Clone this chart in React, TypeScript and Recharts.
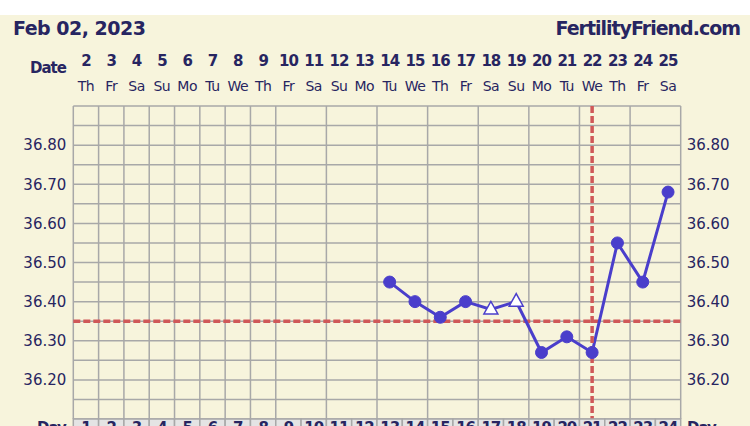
import React from 'react';
import { ComposedChart, Line, XAxis, YAxis, CartesianGrid, ReferenceLine } from 'recharts';

const dates = [2, 3, 4, 5, 6, 7, 8, 9, 10, 11, 12, 13, 14, 15, 16, 17, 18, 19, 20, 21, 22, 23, 24, 25];
const weekdays = ['Th', 'Fr', 'Sa', 'Su', 'Mo', 'Tu', 'We', 'Th', 'Fr', 'Sa', 'Su', 'Mo', 'Tu', 'We', 'Th', 'Fr', 'Sa', 'Su', 'Mo', 'Tu', 'We', 'Th', 'Fr', 'Sa'];
const cycleDays = [1, 2, 3, 4, 5, 6, 7, 8, 9, 10, 11, 12, 13, 14, 15, 16, 17, 18, 19, 20, 21, 22, 23, 24];
const temps = [null, null, null, null, null, null, null, null, null, null, null, null,
  36.45, 36.40, 36.36, 36.40, 36.38, 36.40, 36.27, 36.31, 36.27, 36.55, 36.45, 36.68];
const openTriangleDates = [18, 19];
const coverline = 36.35;
const ovulationDate = 22;
const yGridTicks = [36.10, 36.15, 36.20, 36.25, 36.30, 36.35, 36.40, 36.45, 36.50, 36.55, 36.60, 36.65, 36.70, 36.75, 36.80, 36.85, 36.90];
const yTickLabels = ['36.20', '36.30', '36.40', '36.50', '36.60', '36.70', '36.80'];

const data = dates.map((d, i) => ({ date: d, dow: weekdays[i], cd: cycleDays[i], temp: temps[i] }));
const xDomain = [dates[0] - 0.5, dates[dates.length - 1] + 0.5];
const columnEdges = [...dates.map((d) => d - 0.5), dates[dates.length - 1] + 0.5];

const CREAM = '#f7f4dc';
const NAVY = '#272561';
const BLUE = '#4a3ecb';
const RED = '#d05858';
const GRID = '#a8a8a8';
const FONT = '"DejaVu Sans", Verdana, sans-serif';

const TopTick = (props: any) => {
  const { x, y, payload, index } = props;
  const row = data.find((r) => r.date === payload.value);
  return (
    <g key={`tt-${index}`}>
      <text x={x} y={y - 40} textAnchor="middle" fill={NAVY} fontFamily={FONT} fontWeight="bold" fontSize={15} letterSpacing={-1}>
        {payload.value}
      </text>
      <text x={x} y={y - 15} textAnchor="middle" fill={NAVY} fontFamily={FONT} fontSize={14} letterSpacing={-0.5}>
        {row ? row.dow : ''}
      </text>
    </g>
  );
};

const BottomTick = (props: any) => {
  const { x, y, payload, index, width } = props;
  const row = data.find((r) => r.date === payload.value);
  const w = width / dates.length;
  return (
    <g key={`bt-${index}`}>
      <rect x={x - w / 2} y={y} width={w} height={20} fill="#e4e4e4" stroke={GRID} strokeWidth={1.5} />
      <text x={x} y={y + 13.5} textAnchor="middle" fill={NAVY} fontFamily={FONT} fontWeight="bold" fontSize={15} letterSpacing={-1}>
        {row ? row.cd : ''}
      </text>
    </g>
  );
};

const TempDot = (props: any) => {
  const { cx, cy, payload } = props;
  if (cy == null || payload.temp == null) return <g key={`d-${payload.date}`} />;
  if (openTriangleDates.includes(payload.date)) {
    return (
      <polygon
        key={`d-${payload.date}`}
        points={`${cx},${cy - 8} ${cx - 7},${cy + 4.5} ${cx + 7},${cy + 4.5}`}
        fill="#ffffff"
        stroke={BLUE}
        strokeWidth={1.5}
      />
    );
  }
  return <circle key={`d-${payload.date}`} cx={cx} cy={cy} r={6} fill={BLUE} stroke={BLUE} />;
};

export default function App() {
  return (
    <div style={{ position: 'relative', width: 750, height: 426, background: '#ffffff', overflow: 'hidden' }}>
      <style>{'body{margin:0}'}</style>
      <div style={{ position: 'absolute', left: 0, top: 15, width: 750, height: 411, background: CREAM }} />
      <div style={{ position: 'absolute', left: 0, top: 0 }}>
        <ComposedChart width={750} height={426} data={data} margin={{ top: 0, right: 0, bottom: 0, left: 0 }}>
          <XAxis xAxisId="grid" dataKey="date" type="number" domain={xDomain} ticks={columnEdges} hide />
          <XAxis
            xAxisId="top"
            dataKey="date"
            type="number"
            orientation="top"
            domain={xDomain}
            ticks={dates}
            interval={0}
            height={106}
            axisLine={false}
            tickLine={false}
            tickSize={0}
            tickMargin={0}
            tick={<TopTick />}
          />
          <XAxis
            xAxisId="bottom"
            dataKey="date"
            type="number"
            orientation="bottom"
            domain={xDomain}
            ticks={dates}
            interval={0}
            height={7}
            axisLine={false}
            tickLine={false}
            tickSize={0}
            tickMargin={0}
            tick={<BottomTick />}
          />
          <YAxis
            yAxisId="left"
            type="number"
            domain={[36.1, 36.9]}
            ticks={yGridTicks}
            interval={0}
            allowDataOverflow
            width={73.3}
            axisLine={false}
            tickLine={false}
            tickSize={0}
            tickMargin={7}
            tickFormatter={(v: number) => (yTickLabels.includes(v.toFixed(2)) ? v.toFixed(2) : '')}
            tick={{ fill: NAVY, fontSize: 15, fontFamily: FONT }}
          />
          <YAxis
            yAxisId="right"
            orientation="right"
            type="number"
            domain={[36.1, 36.9]}
            ticks={yGridTicks}
            interval={0}
            allowDataOverflow
            width={69.3}
            axisLine={false}
            tickLine={false}
            tickSize={0}
            tickMargin={6}
            tickFormatter={(v: number) => (yTickLabels.includes(v.toFixed(2)) ? v.toFixed(2) : '')}
            tick={{ fill: NAVY, fontSize: 15, fontFamily: FONT, textAnchor: 'start' }}
          />
          <CartesianGrid xAxisId="grid" yAxisId="left" stroke={GRID} strokeWidth={1.5} fill={CREAM} />
          <ReferenceLine xAxisId="top" yAxisId="left" y={coverline} stroke={RED} strokeWidth={3.5} strokeDasharray="7 3" />
          <Line
            xAxisId="top"
            yAxisId="left"
            dataKey="temp"
            type="linear"
            stroke={BLUE}
            strokeWidth={3}
            dot={TempDot}
            activeDot={false}
            isAnimationActive={false}
          />
          <ReferenceLine xAxisId="top" yAxisId="left" x={ovulationDate} stroke={RED} strokeWidth={3.5} strokeDasharray="7 3" />
        </ComposedChart>
      </div>
      <svg width={750} height={426} style={{ position: 'absolute', left: 0, top: 0, pointerEvents: 'none' }}>
        <text x={13} y={35} fill={NAVY} fontFamily={FONT} fontWeight="bold" fontSize={19} letterSpacing={-0.5}>Feb 02, 2023</text>
        <text x={740} y={35} textAnchor="end" fill={NAVY} fontFamily={FONT} fontWeight="bold" fontSize={19} letterSpacing={-1}>FertilityFriend.com</text>
        <text x={30} y={73} fill={NAVY} fontFamily={FONT} fontWeight="bold" fontSize={15} letterSpacing={-1}>Date</text>
        <text x={37} y={432.5} fill={NAVY} fontFamily={FONT} fontWeight="bold" fontSize={15} letterSpacing={-1}>Day</text>
        <text x={687} y={432.5} fill={NAVY} fontFamily={FONT} fontWeight="bold" fontSize={15} letterSpacing={-1}>Day</text>
      </svg>
    </div>
  );
}
